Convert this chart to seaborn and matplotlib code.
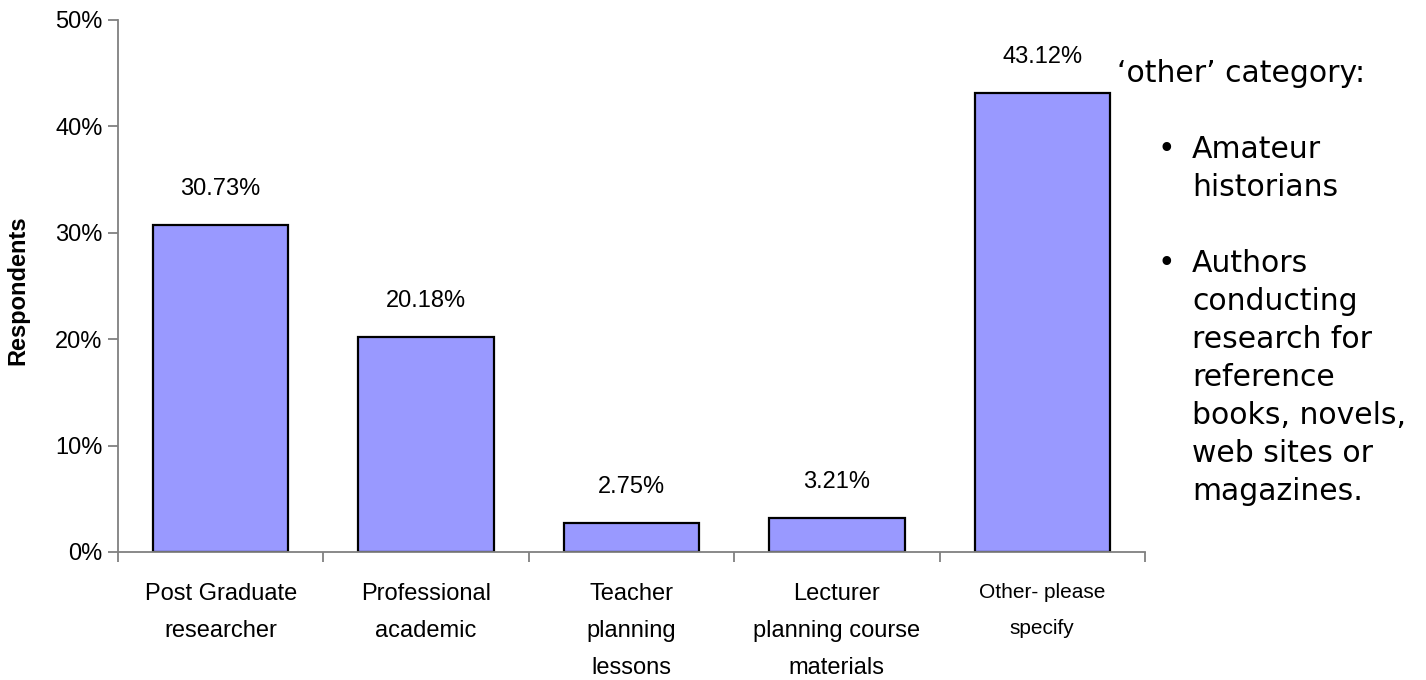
import matplotlib
matplotlib.use("Agg")
import matplotlib.pyplot as plt
import matplotlib.transforms as mtransforms
from matplotlib.ticker import FuncFormatter, FixedLocator
import seaborn as sns
import pandas as pd

# Survey results: share of respondents by role
categories = [
    "Post Graduate\nresearcher",
    "Professional\nacademic",
    "Teacher\nplanning\nlessons",
    "Lecturer\nplanning course\nmaterials",
    "Other- please\nspecify",
]
shares = [30.73, 20.18, 2.75, 3.21, 43.12]
value_labels = ["30.73%", "20.18%", "2.75%", "3.21%", "43.12%"]
y_ticks = [0, 10, 20, 30, 40, 50]

note_title = "\u2018other\u2019 category:"
note_bullets = [
    ["Amateur", "historians"],
    ["Authors", "conducting", "research for", "reference", "books, novels,", "web sites or", "magazines."],
]

sns.set_theme(style="ticks")
plt.rcParams["font.family"] = ["Liberation Sans", "DejaVu Sans"]

W, H = 1426, 680
fig = plt.figure(figsize=(W / 100, H / 100), dpi=100)
ax = fig.add_axes([118 / W, 1 - 552 / H, (1145 - 118) / W, (552 - 20) / H])

df = pd.DataFrame({"role": categories, "share": shares})
sns.barplot(data=df, x="role", y="share", color="#9999FF", saturation=1,
            edgecolor="black", linewidth=1.6, width=0.66, ax=ax)

ax.set_xlim(-0.5, len(categories) - 0.5)
ax.set_ylim(0, 50)
ax.set_xlabel("")
ax.set_ylabel("")

gray = "#808080"
for side in ("top", "right"):
    ax.spines[side].set_visible(False)
for side in ("left", "bottom"):
    ax.spines[side].set_color(gray)
    ax.spines[side].set_linewidth(1.3)

ax.yaxis.set_major_locator(FixedLocator(y_ticks))
ax.yaxis.set_major_formatter(FuncFormatter(lambda v, p: f"{v:.0f}%"))
ax.tick_params(axis="y", direction="out", length=7, width=1.3, color=gray,
               labelsize=17, labelcolor="black", pad=4)

ax.set_xticks([i - 0.5 for i in range(len(categories) + 1)])
ax.set_xticklabels([])
ax.tick_params(axis="x", direction="out", length=7, width=1.3, color=gray)

# category labels below the axis
trans = mtransforms.blended_transform_factory(ax.transData, ax.transAxes)
for i, lab in enumerate(categories):
    last = i == len(categories) - 1
    ax.text(i, -0.058, lab, transform=trans, ha="center", va="top",
            fontsize=15 if last else 17, linespacing=2.15 if last else 1.9,
            color="black")

# value labels above bars
for bar, txt in zip(ax.patches, value_labels):
    x = bar.get_x() + bar.get_width() / 2
    ax.annotate(txt, (x, bar.get_height()), xytext=(0, 26),
                textcoords="offset points", ha="center", va="center",
                fontsize=17, color="black")

fig.text(18 / W, 1 - 290 / H, "Respondents", rotation=90, ha="center",
         va="center", fontsize=17, fontweight="bold", color="black")

# note on the 'other' category
note_font = dict(fontsize=21.5, family="DejaVu Sans", color="black", va="baseline")
line_h = 38
fig.text(1117 / W, 1 - 82 / H, note_title, ha="left", **note_font)
y = 82 + 2 * line_h
for group in note_bullets:
    fig.text(1157 / W, 1 - y / H, "\u2022", ha="left", **note_font)
    for line in group:
        fig.text(1192 / W, 1 - y / H, line, ha="left", **note_font)
        y += line_h
    y += line_h

fig.savefig("out.png", dpi=100)
